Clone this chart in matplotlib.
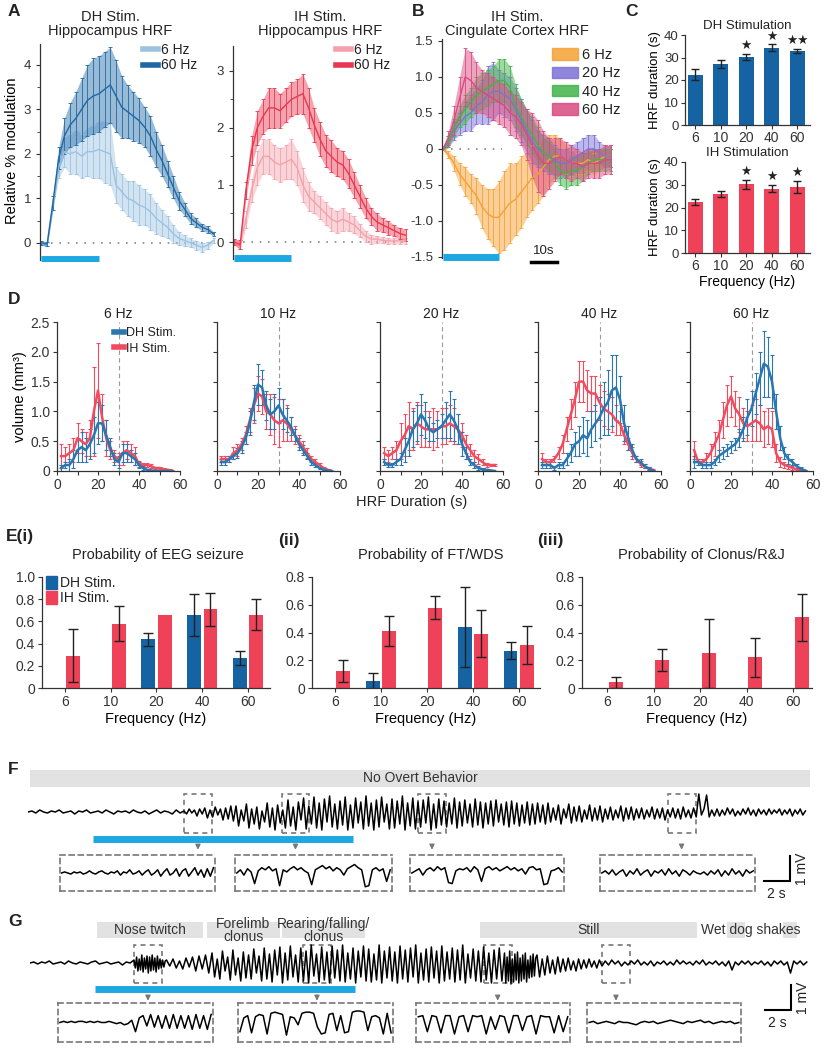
import matplotlib
matplotlib.use("Agg")
import matplotlib.pyplot as plt
import numpy as np
from matplotlib.lines import Line2D
from matplotlib.patches import Patch, Rectangle

plt.rcParams["font.family"] = ["Liberation Sans", "DejaVu Sans"]
plt.rcParams["axes.linewidth"] = 0.9
plt.rcParams["axes.edgecolor"] = "#333333"
plt.rcParams["xtick.color"] = "#333333"
plt.rcParams["ytick.color"] = "#333333"
plt.rcParams["text.color"] = "#222222"

W, H = 825, 1050

# ---------------- data ----------------
# A / B : HRF time courses, sampled every 2 s
hrf_t = np.arange(0, 61, 2)
hrf_stim = [0, 20]

dh6_mean = [0.0, -0.03, 0.9, 1.7, 2.05, 2.0, 2.05, 1.95, 2.05, 2.05, 2.1, 2.05, 2.0,
            1.3, 1.15, 1.0, 0.95, 0.85, 0.8, 0.7, 0.55, 0.45, 0.35, 0.2, 0.1, 0.05,
            0.0, -0.05, -0.1, -0.05, 0.05]
dh6_err = [0.05, 0.05, 0.15, 0.25, 0.35, 0.45, 0.5, 0.5, 0.55, 0.6, 0.65, 0.7, 0.7,
           0.4, 0.4, 0.4, 0.45, 0.45, 0.4, 0.4, 0.35, 0.3, 0.25, 0.2, 0.15, 0.12,
           0.1, 0.1, 0.1, 0.08, 0.05]
dh60_mean = [0.0, -0.03, 0.9, 1.9, 2.4, 2.65, 2.8, 3.0, 3.2, 3.3, 3.35, 3.45, 3.55,
             3.3, 3.05, 2.95, 2.85, 2.75, 2.6, 2.4, 2.1, 1.85, 1.55, 1.25, 0.95, 0.75,
             0.55, 0.45, 0.35, 0.3, 0.2]
dh60_err = [0.05, 0.05, 0.15, 0.25, 0.4, 0.5, 0.6, 0.7, 0.8, 0.85, 0.85, 0.85, 0.85,
            0.8, 0.7, 0.6, 0.55, 0.5, 0.45, 0.45, 0.4, 0.35, 0.3, 0.25, 0.2, 0.15,
            0.12, 0.1, 0.08, 0.07, 0.05]
ih6_mean = [0.0, -0.05, 0.4, 0.9, 1.3, 1.5, 1.5, 1.4, 1.35, 1.4, 1.45, 1.3, 1.0, 0.8,
            0.7, 0.6, 0.5, 0.4, 0.35, 0.4, 0.35, 0.3, 0.2, 0.1, 0.05, 0.05, 0.03,
            0.02, 0.02, 0.02, 0.02]
ih6_err = [0.05, 0.08, 0.15, 0.2, 0.3, 0.3, 0.3, 0.3, 0.3, 0.3, 0.35, 0.3, 0.3, 0.25,
           0.2, 0.2, 0.2, 0.2, 0.2, 0.2, 0.15, 0.15, 0.12, 0.1, 0.08, 0.06, 0.05,
           0.05, 0.05, 0.05, 0.05]
ih60_mean = [0.0, -0.05, 0.9, 1.6, 2.0, 2.2, 2.35, 2.35, 2.3, 2.4, 2.5, 2.55, 2.6,
             2.35, 2.05, 1.8, 1.6, 1.5, 1.4, 1.35, 1.2, 1.0, 0.8, 0.6, 0.45, 0.35,
             0.3, 0.25, 0.2, 0.15, 0.12]
ih60_err = [0.05, 0.08, 0.15, 0.25, 0.3, 0.3, 0.35, 0.35, 0.3, 0.3, 0.3, 0.3, 0.35,
            0.35, 0.3, 0.3, 0.28, 0.28, 0.25, 0.25, 0.25, 0.22, 0.2, 0.18, 0.15, 0.15,
            0.12, 0.12, 0.1, 0.1, 0.1]

cc_labels = ["6 Hz", "20 Hz", "40 Hz", "60 Hz"]
cc6_mean = [0.0, -0.08, -0.2, -0.35, -0.45, -0.55, -0.65, -0.8, -0.9, -0.95, -0.95,
            -0.85, -0.75, -0.7, -0.6, -0.5, -0.4, -0.35, -0.25, -0.15, -0.1, -0.1,
            -0.15, -0.2, -0.2, -0.2, -0.15, -0.2, -0.15, -0.1, -0.1]
cc6_err = [0.02, 0.05, 0.1, 0.15, 0.2, 0.2, 0.25, 0.3, 0.35, 0.4, 0.5, 0.55, 0.55,
           0.5, 0.5, 0.45, 0.45, 0.4, 0.4, 0.35, 0.3, 0.25, 0.2, 0.18, 0.15, 0.15,
           0.15, 0.15, 0.15, 0.15, 0.15]
cc20_mean = [0.0, 0.1, 0.25, 0.35, 0.45, 0.5, 0.6, 0.65, 0.75, 0.8, 0.8, 0.75, 0.7,
             0.55, 0.4, 0.25, 0.1, 0.0, -0.05, -0.1, -0.15, -0.2, -0.2, -0.15, -0.1,
             -0.05, 0.0, 0.0, -0.05, -0.1, -0.1]
cc20_err = [0.02, 0.08, 0.12, 0.15, 0.2, 0.25, 0.25, 0.3, 0.4, 0.4, 0.3, 0.3, 0.3,
            0.3, 0.3, 0.3, 0.3, 0.25, 0.25, 0.25, 0.2, 0.2, 0.2, 0.2, 0.2, 0.2, 0.2,
            0.2, 0.15, 0.15, 0.15]
cc40_mean = [0.0, 0.1, 0.3, 0.45, 0.55, 0.65, 0.75, 0.8, 0.85, 0.9, 0.95, 0.95, 0.85,
             0.6, 0.45, 0.3, 0.2, 0.05, -0.05, -0.1, -0.2, -0.3, -0.35, -0.3, -0.3,
             -0.25, -0.2, -0.15, -0.15, -0.15, -0.15]
cc40_err = [0.02, 0.08, 0.12, 0.15, 0.2, 0.2, 0.25, 0.25, 0.25, 0.25, 0.3, 0.3, 0.3,
            0.3, 0.25, 0.25, 0.25, 0.25, 0.2, 0.2, 0.2, 0.2, 0.2, 0.2, 0.2, 0.2, 0.15,
            0.15, 0.15, 0.15, 0.15]
cc60_mean = [0.0, 0.15, 0.4, 0.7, 1.0, 0.95, 0.85, 0.8, 0.75, 0.7, 0.65, 0.6, 0.5,
             0.45, 0.35, 0.2, 0.05, -0.1, -0.2, -0.2, -0.15, -0.1, -0.15, -0.2, -0.2,
             -0.25, -0.2, -0.2, -0.2, -0.15, -0.15]
cc60_err = [0.02, 0.1, 0.2, 0.3, 0.4, 0.4, 0.35, 0.3, 0.3, 0.3, 0.3, 0.3, 0.3, 0.3,
            0.3, 0.35, 0.45, 0.5, 0.45, 0.35, 0.3, 0.25, 0.25, 0.25, 0.2, 0.2, 0.2,
            0.2, 0.2, 0.2, 0.2]

# C : HRF duration (s)
freq_labels = ["6", "10", "20", "40", "60"]
dur_dh = [22.3, 27.0, 30.2, 34.3, 33.0]
dur_dh_err = [2.5, 1.8, 1.5, 1.5, 1.0]
dur_dh_stars = ["", "", "\u2605", "\u2605", "\u2605\u2605"]
dur_ih = [22.3, 25.8, 30.3, 28.3, 29.0]
dur_ih_err = [1.3, 1.3, 2.0, 1.7, 2.7]
dur_ih_stars = ["", "", "\u2605", "\u2605", "\u2605"]

# D : volume vs HRF duration, 2 s bins
dur_bins = np.arange(2, 57, 2)
d_titles = ["6 Hz", "10 Hz", "20 Hz", "40 Hz", "60 Hz"]
vol_dh_6 = [0.05, 0.1, 0.1, 0.2, 0.35, 0.4, 0.35, 0.45, 0.6, 0.8, 0.8, 0.6, 0.4, 0.2,
            0.15, 0.3, 0.3, 0.25, 0.2, 0.1, 0.05, 0.02, 0.01, 0, 0, 0, 0, 0]
vol_dh_6_err = [0.05, 0.05, 0.1, 0.15, 0.2, 0.25, 0.2, 0.25, 0.3, 0.35, 0.3, 0.25, 0.15,
                0.1, 0.1, 0.15, 0.15, 0.1, 0.1, 0.05, 0.03, 0.02, 0.01, 0, 0, 0, 0, 0]
vol_ih_6 = [0.25, 0.25, 0.3, 0.35, 0.55, 0.5, 0.45, 0.55, 1.0, 1.35, 0.9, 0.55, 0.35,
            0.25, 0.2, 0.3, 0.35, 0.3, 0.25, 0.12, 0.1, 0.1, 0.08, 0.05, 0.05, 0.03,
            0.02, 0.01]
vol_ih_6_err = [0.2, 0.15, 0.15, 0.2, 0.25, 0.2, 0.2, 0.3, 0.75, 0.8, 0.4, 0.3, 0.15,
                0.1, 0.1, 0.2, 0.15, 0.15, 0.15, 0.05, 0.04, 0.03, 0.03, 0.02, 0.02,
                0.02, 0.01, 0.01]
vol_dh_10 = [0.15, 0.15, 0.2, 0.25, 0.3, 0.4, 0.55, 0.8, 1.15, 1.45, 1.4, 1.1, 0.95,
             1.0, 1.1, 0.95, 0.85, 0.75, 0.6, 0.45, 0.35, 0.25, 0.15, 0.1, 0.05, 0.02,
             0.01, 0]
vol_dh_10_err = [0.05, 0.05, 0.05, 0.05, 0.08, 0.1, 0.1, 0.2, 0.3, 0.35, 0.3, 0.25,
                 0.25, 0.3, 0.3, 0.25, 0.2, 0.15, 0.1, 0.1, 0.08, 0.05, 0.05, 0.03,
                 0.02, 0.01, 0.01, 0]
vol_ih_10 = [0.2, 0.2, 0.2, 0.3, 0.35, 0.45, 0.6, 0.85, 1.1, 1.3, 1.25, 1.0, 0.95,
             0.85, 0.8, 0.85, 0.8, 0.7, 0.6, 0.5, 0.4, 0.3, 0.2, 0.15, 0.1, 0.05,
             0.02, 0]
vol_ih_10_err = [0.05, 0.05, 0.05, 0.1, 0.1, 0.1, 0.15, 0.2, 0.3, 0.3, 0.3, 0.3, 0.35,
                 0.4, 0.4, 0.35, 0.3, 0.2, 0.15, 0.1, 0.1, 0.08, 0.05, 0.05, 0.03,
                 0.02, 0.01, 0]
vol_dh_20 = [0.15, 0.1, 0.1, 0.15, 0.2, 0.35, 0.5, 0.7, 0.8, 0.95, 0.85, 0.7, 0.65,
             0.7, 0.75, 0.85, 0.95, 0.85, 0.7, 0.45, 0.3, 0.15, 0.1, 0.05, 0.03, 0.02,
             0.01, 0]
vol_dh_20_err = [0.05, 0.03, 0.03, 0.05, 0.1, 0.2, 0.25, 0.3, 0.3, 0.35, 0.3, 0.2,
                 0.15, 0.15, 0.2, 0.3, 0.4, 0.35, 0.25, 0.2, 0.1, 0.05, 0.05, 0.03,
                 0.02, 0.01, 0.01, 0]
vol_ih_20 = [0.3, 0.25, 0.3, 0.35, 0.5, 0.6, 0.75, 0.7, 0.8, 0.75, 0.7, 0.7, 0.7, 0.7,
             0.75, 0.75, 0.8, 0.75, 0.7, 0.6, 0.45, 0.35, 0.25, 0.2, 0.15, 0.1, 0.1,
             0.1]
vol_ih_20_err = [0.1, 0.1, 0.1, 0.15, 0.3, 0.35, 0.4, 0.35, 0.35, 0.35, 0.3, 0.3, 0.35,
                 0.3, 0.3, 0.3, 0.3, 0.3, 0.25, 0.2, 0.15, 0.1, 0.1, 0.08, 0.05, 0.03,
                 0.02, 0.01]
vol_dh_40 = [0.1, 0.1, 0.1, 0.05, 0.1, 0.1, 0.2, 0.3, 0.45, 0.5, 0.6, 0.55, 0.7, 0.8,
             0.9, 1.05, 1.15, 1.35, 1.4, 1.2, 0.8, 0.55, 0.35, 0.2, 0.15, 0.08, 0.04,
             0.01]
vol_dh_40_err = [0.05, 0.05, 0.05, 0.03, 0.05, 0.05, 0.1, 0.15, 0.2, 0.25, 0.3, 0.3,
                 0.3, 0.3, 0.35, 0.45, 0.55, 0.6, 0.55, 0.4, 0.3, 0.2, 0.1, 0.05, 0.05,
                 0.03, 0.02, 0.01]
vol_ih_40 = [0.2, 0.15, 0.15, 0.2, 0.3, 0.45, 0.7, 0.95, 1.2, 1.5, 1.5, 1.35, 1.3, 1.3,
             1.15, 1.05, 1.0, 0.95, 0.85, 0.8, 0.6, 0.45, 0.3, 0.2, 0.12, 0.08, 0.04,
             0.02]
vol_ih_40_err = [0.1, 0.05, 0.05, 0.05, 0.1, 0.15, 0.2, 0.25, 0.3, 0.35, 0.35, 0.35,
                 0.3, 0.3, 0.3, 0.3, 0.3, 0.3, 0.25, 0.2, 0.15, 0.1, 0.1, 0.05, 0.05,
                 0.03, 0.02, 0.01]
vol_dh_60 = [0.15, 0.15, 0.1, 0.1, 0.1, 0.15, 0.25, 0.3, 0.35, 0.4, 0.45, 0.55, 0.7,
             0.9, 1.05, 1.3, 1.55, 1.8, 1.75, 1.5, 1.0, 0.55, 0.3, 0.2, 0.15, 0.08,
             0.04, 0.01]
vol_dh_60_err = [0.1, 0.05, 0.05, 0.05, 0.05, 0.05, 0.1, 0.1, 0.1, 0.1, 0.1, 0.15, 0.2,
                 0.3, 0.3, 0.35, 0.45, 0.55, 0.5, 0.45, 0.3, 0.2, 0.1, 0.08, 0.05,
                 0.03, 0.02, 0.01]
vol_ih_60 = [0.35, 0.15, 0.15, 0.2, 0.3, 0.45, 0.6, 0.85, 1.1, 1.25, 1.05, 0.95, 0.8,
             0.75, 0.8, 0.85, 0.8, 0.7, 0.75, 0.7, 0.3, 0.15, 0.1, 0.08, 0.05, 0.03,
             0.02, 0.01]
vol_ih_60_err = [0.15, 0.05, 0.05, 0.1, 0.15, 0.2, 0.25, 0.3, 0.35, 0.35, 0.3, 0.3,
                 0.25, 0.25, 0.3, 0.35, 0.3, 0.3, 0.3, 0.3, 0.15, 0.08, 0.05, 0.04,
                 0.03, 0.02, 0.01, 0.01]

# E : probabilities
seiz_dh = [0, 0, 0.44, 0.66, 0.27]
seiz_dh_err = [0, 0, 0.06, 0.19, 0.06]
seiz_ih = [0.29, 0.58, 0.66, 0.71, 0.66]
seiz_ih_err = [0.24, 0.16, 0, 0.15, 0.14]
ftw_dh = [0, 0.05, 0, 0.44, 0.27]
ftw_dh_err = [0, 0.06, 0, 0.29, 0.06]
ftw_ih = [0.12, 0.41, 0.58, 0.39, 0.31]
ftw_ih_err = [0.08, 0.11, 0.08, 0.17, 0.14]
clon_dh = [0, 0, 0, 0, 0]
clon_dh_err = [0, 0, 0, 0, 0]
clon_ih = [0.04, 0.20, 0.25, 0.22, 0.51]
clon_ih_err = [0.04, 0.08, 0.25, 0.14, 0.17]

# F / G : EEG traces (units of 0.04 mV), 60 s recordings split in segments
eeg_unit = 0.04
eeg_stim = [5, 25]
zoom_len = 2.15

f_bounds = [0, 12, 16, 40, 53, 60]
f_base = [0, 1, -1, 2, 0, -1, 1, 0, 2, -1, 0, 1, -2, 1, 0, 2, -1, 0, 1, -1,
          2, 0, -2, 1, 0, 1, -1, 2, 0, -1, 1, -2, 0, 2, -1, 1, 0, -2, 2, -1]
f_build = [1, -2, 3, -1, 2, -4, 3, -2, 4, -6, 2, -5, 5, -3, 3, -8, 4, -7, 6, -9]
f_spikes = [6, -14, 2, -9, 8, -16, 3, -12, 5, -17, 1, -10, 9, -15, 4, -18, 7, -11, 2, -16,
            12, -14, 5, -18, 10, -8, 14, -17, 6, -12, 15, -16, 9, -18, 13, -10, 16, -15, 8, -17,
            11, -13, 15, -18, 7, -16, 14, -11, 10, -17, 16, -14, 9, -18, 12, -15, 15, -10, 8, -17,
            13, -16, 11, -12, 16, -18, 9, -14, 14, -17, 10, -15, 12, -11, 15, -18, 8, -16, 13, -13,
            11, -15, 9, -12, 14, -16, 10, -14, 12, -11, 8, -15, 13, -13, 10, -16, 9, -12, 11, -14,
            12, -10, 8, -13, 10, -15, 11, -12, 9, -14, 7, -11, 10, -13, 8, -12, 9, -10, 7, -12]
f_dense = [9, -10, 4, -8, 7, -12, 3, -6, 8, -11, 5, -9, 6, -10, 2, -7, 7, -9, 4, -8,
           6, -10, 3, -7, 5, -8, 2, -6, 6, -9, 4, -7, 5, -8, 3, -6, 4, -7, 2, -5,
           5, -7, 3, -6, 4, -8, 2, -5, 4, -6, 3, -7, 5, -5, 2, -6, 4, -5, 18, -3,
           3, 17, -5, 2, -4]
f_tail = [3, -4, 2, -3, 4, -2, 3, -4, 1, -3, 3, -2, 4, -3, 2, -4, 3, -2, 2, -3,
          3, -2, 2, -1, 3, -3, 2, -2, 3, -4, 2, -2, 3, -3, 1]
f_label = "No Overt Behavior"
f_label_span = [0.15, 60.15]
f_zoom_start = [12.0, 19.5, 30.0, 49.2]
f_inset1 = [0, 1, 0, -1, 1, 0, 1, -1, 0, 2, 0, -1, 1, 2, 0, -1, 1, 0, 2, -2, 1, 0, 3, -1,
            0, 2, -2, 1, 3, -2, 0, 3, -3, 1, 4, -2, 0, 4, -3, 2, 4, -3, 1, 5, -2, 3, -4,
            4, -3, 5]
f_inset2 = [0, 3, -2, 4, 1, -10, 2, 5, 3, 6, 2, 4, -12, 3, 1, 4, 6, 3, 5, 2, 0, -11, 3,
            5, 7, 4, 6, 2, 5, 3, -2, 4, 6, 8, 5, 3, -13, -12, 3, 5, 2, 4, -8, 3]
f_inset3 = [0, 2, 4, -2, 3, 5, 2, 6, 3, 5, -9, -10, 2, 4, 3, 5, 1, 6, 3, -8, 4, 6, 3, 5,
            2, 4, 6, 3, 5, 2, 4, -1, 5, 6, 3, 4, -11, -10, 2, 3, 5, 1]
f_inset4 = [0, 2, -1, 3, -2, 1, 3, -3, 2, -1, 4, -2, 1, 3, -3, 2, 0, 3, -2, 4, -1, 2, -3,
            3, 1, -2, 2, 0, -1, 1, -2, 2, -1, 3, -3, 2, -2, 4, -1, 2, -3, 3, 0, 2]

g_bounds = [0, 8, 10.5, 14, 36.5, 39, 44, 60]
g_base = [0, 1, -1, 1, 0, 2, -1, 0, 1, -1, 2, 0, -1, 1, 0, -1, 1, 2, -1, 0, 1, -1, 0, 1,
          -2, 1, 0]
g_burst = [3, -5, 6, -8, 4, -7, 8, -9, 5, -6, 7, -10, 6, -8, 8, -7, 5, -9, 7, -6, 4, -5,
           3, -4, 2]
g_build = [3, -3, 4, -5, 2, -6, 5, -4, 6, -8, 7, -6, 8, -10]
g_spikes = [10, -14, 4, -16, 12, -8, 6, -17, 13, -12, 5, -18, 11, -15, 8, -16, 14, -10, 7, -18,
            15, -16, 9, -19, 13, -12, 16, -20, 10, -17, 17, -14, 8, -19, 15, -18, 12, -20, 18, -13,
            9, -19, 16, -17, 11, -20, 17, -15, 13, -18, 18, -19, 10, -16, 15, -20, 12, -14, 17, -18,
            14, -19, 9, -17, 18, -20, 12, -15, 16, -18, 11, -20, 17, -16, 13, -19, 15, -14, 18, -20,
            10, -17, 14, -19, 16, -15, 12, -20, 17, -18, 11, -16, 15, -19, 13, -17, 18, -20, 9, -15,
            14, -18, 12, -19, 16, -17, 10, -20, 13, -16, 15, -18]
g_dense = [10, -20, 6, -18, 12, -21, 4, -19, 9, -17, 11, -20, 5, -18, 8, -16, 10, -19, 3,
           -15, 7, -14, 9, -13, 5]
g_decay = [8, -14, 4, -12, 7, -10, 3, -11, 6, -9, 4, -8, 5, -7, 2, -8, 4, -6, 3, -5, 4, -4,
           2, -5, 3]
g_tail = [-3, 2, -2, 3, -1, 2, -3, 1, -2, 2, -1, 3, -2, 1, -2, 2, -3, 1, -1, 2,
          -2, 1, -2, 3, -1, 2, -1, 1, -2, 2, -1, 3, -2, 1, -1, 2, -2, 1, -3, 2,
          -7, 1, -2, 2, -1, 2, -2, 1, -1, 2, -2, 1, -3, 2, -1, 2, -2, 1, -10, 2,
          -1, 2, -2, 1]
g_labels = ["Nose twitch", "Forelimb\nclonus", "Rearing/falling/\nclonus", "Still"]
g_label_start = [5.15, 13.6, 19.4, 34.6]
g_label_end = [13.3, 19.2, 25.8, 51.3]
g_wds_start = [53.6, 57.9]
g_wds_end = [55.0, 59.0]
g_zoom_start = [8.0, 21.0, 34.9, 44.0]
g_inset1 = [0, 1, 0, 1, 0, 1, 1, 0, 1, 0, 1, 0, 0, 1, 0, -1, 0, -2, -1, 2, -8, 4, 6, -3,
            7, -4, 6, -5, 6, -5, 7, -5, 6, -5, 6, -6, 7, -5, 6, -6, 7]
g_inset2 = [-8, 4, 6, -9, 5, 7, 6, -10, 8, 9, 8, 7, -11, 5, 4, -2, 8, 9, 9, 8, -4, -10,
            -9, 7, 8, -7, 6, -9, -8, 9, 10, 10, 9, -7, 5, 6, 4, -10, 8, -9]
g_inset3 = [5, 6, -8, 6, 5, -9, 6, 6, -10, 5, 6, -8, 6, 5, 6, -10, 5, -6, 6, 5, -9, 6, 6,
            -7, 5, 6, -10, 6, 5, 5, -9, 6, -8, 5]
g_inset4 = [0, 1, -1, 0, 1, 0, -1, 1, 0, 0, -1, -2, 0, 1, 0, 1, -1, 0, 1, 2, 1, 0, -1, 1,
            0, 1, 2, 0, 1, -1, 0, 1, 0, 1, -1, 0]

# ---------------- colours ----------------
CYAN = "#1ea8e2"
DH_DARK = "#1f68a4"
DH_LIGHT = "#9dc2e0"
IH_DARK = "#e8374e"
IH_LIGHT = "#f3a2ad"
CC_COLORS = ["#f6a135", "#7c72d6", "#42b34b", "#da4a80"]
BAR_BLUE = "#1663a3"
BAR_RED = "#ef4259"
D_BLUE = "#2976b0"
D_RED = "#f14b60"
GREY_BOX = "#e2e2e2"
DASH = "#777777"

fig = plt.figure(figsize=(W / 100, H / 100), dpi=100)


def px_axes(x0, y0, x1, y1):
    return fig.add_axes([x0 / W, 1 - y1 / H, (x1 - x0) / W, (y1 - y0) / H])


def px_text(x, y, s, **kw):
    fig.text(x / W, 1 - y / H, s, **kw)


def left_only(ax):
    for side in ("top", "right", "bottom"):
        ax.spines[side].set_visible(False)
    ax.set_xticks([])


def draw_hrf(ax, mean, err, color, alpha=0.45):
    m = np.asarray(mean)
    e = np.asarray(err)
    ax.fill_between(hrf_t, m - e, m + e, color=color, alpha=alpha, lw=0)
    ax.errorbar(hrf_t, m, yerr=e, color=color, lw=1, elinewidth=0.6,
                capsize=1.3, capthick=0.6)


# ---------------- A ----------------
for x0, x1, ylim, top, bar_y, curves, title, leg_x in [
        (40, 215, (-0.43, 4.56), 4, -0.36,
         [(dh6_mean, dh6_err, DH_LIGHT), (dh60_mean, dh60_err, DH_DARK)],
         "DH Stim.\nHippocampus HRF", 143),
        (233, 407, (-0.35, 3.54), 3, -0.28,
         [(ih6_mean, ih6_err, IH_LIGHT), (ih60_mean, ih60_err, IH_DARK)],
         "IH Stim.\nHippocampus HRF", 336)]:
    ax = px_axes(x0, 40, x1, 262)
    ax.set_xlim(-0.5, 60.5)
    ax.set_ylim(*ylim)
    left_only(ax)
    ax.spines["left"].set_bounds(ylim[0] + 0.05, ylim[1] - 0.1)
    ax.axhline(0, xmin=0.06, color="#888888", ls=(0, (1, 4)), lw=1.2, zorder=0)
    for mean, err, col in curves:
        draw_hrf(ax, mean, err, col)
    ax.plot(hrf_stim, [bar_y, bar_y], color=CYAN, lw=5, solid_capstyle="butt")
    ax.set_yticks(range(top + 1))
    ax.set_yticks(np.arange(0.5, top + 0.1, 1), minor=True)
    ax.tick_params(labelsize=9.5, length=3)
    ax.tick_params(which="minor", length=2)
    ax.legend([Line2D([], [], color=c[2], lw=4) for c in curves], ["6 Hz", "60 Hz"],
              loc="upper left", bbox_to_anchor=(leg_x / W, 1 - 43 / H),
              bbox_transform=fig.transFigure, frameon=False, fontsize=10,
              handlelength=1.1, handletextpad=0.2, labelspacing=0.1,
              borderpad=0, borderaxespad=0)
    px_text((x0 + x1) / 2 - (17 if x0 == 40 else 0), 24, title, ha="center",
            va="center", fontsize=10.5, linespacing=1.05)
    if x0 == 40:
        ax.set_ylabel("Relative % modulation", fontsize=10.5, labelpad=3)

# ---------------- B ----------------
ax = px_axes(442, 38, 612, 262)
ax.set_xlim(-0.3, 60.5)
ax.set_ylim(-1.57, 1.54)
left_only(ax)
ax.spines["left"].set_bounds(-1.52, 1.52)
ax.axhline(0, xmin=0.05, xmax=0.35, color="#888888", ls=(0, (1, 4)), lw=1.2, zorder=0)
for mean, err, col in zip([cc6_mean, cc20_mean, cc40_mean, cc60_mean],
                          [cc6_err, cc20_err, cc40_err, cc60_err], CC_COLORS):
    draw_hrf(ax, mean, err, col, alpha=0.5)
ax.plot(hrf_stim, [-1.5, -1.5], color=CYAN, lw=5, solid_capstyle="butt")
ax.set_yticks([-1.5, -1.0, -0.5, 0, 0.5, 1.0, 1.5])
ax.set_yticklabels(["-1.5", "-1.0", "-0.5", "0", "0.5", "1.0", "1.5"])
ax.tick_params(labelsize=9.5, length=3)
ax.plot([31.5, 41], [-1.57, -1.57], color="k", lw=2.5, clip_on=False)
ax.text(36.2, -1.5, "10s", ha="center", va="bottom", fontsize=9.5)
ax.legend([Patch(color=c, alpha=0.85) for c in CC_COLORS], cc_labels,
          loc="upper left", bbox_to_anchor=(552 / W, 1 - 48 / H),
          bbox_transform=fig.transFigure, frameon=False, fontsize=10.5,
          handlelength=1.8, handleheight=0.8, handletextpad=0.25, labelspacing=0.3,
          borderpad=0, borderaxespad=0)
px_text(517, 24, "IH Stim.\nCingulate Cortex HRF", ha="center", va="center",
        fontsize=10.5, linespacing=1.05)

# ---------------- C ----------------
for y0, y1, vals, errs, stars, col, title in [
        (35, 125, dur_dh, dur_dh_err, dur_dh_stars, BAR_BLUE, "DH Stimulation"),
        (162, 253, dur_ih, dur_ih_err, dur_ih_stars, BAR_RED, "IH Stimulation")]:
    ax = px_axes(685, y0, 810, y1)
    pos = np.arange(len(vals))
    ax.bar(pos, vals, 0.58, color=col, yerr=errs,
           error_kw=dict(ecolor="#222222", elinewidth=1, capsize=3, capthick=1))
    for p, v, e, s in zip(pos, vals, errs, stars):
        if s:
            ax.text(p, v + e + 0.8, s, ha="center", va="bottom", fontsize=9,
                    color="#222222")
    ax.set_xlim(-0.4, 4.5)
    ax.set_ylim(0, 40)
    ax.set_yticks([0, 10, 20, 30, 40])
    ax.set_xticks(pos)
    ax.set_xticklabels(freq_labels)
    ax.spines["top"].set_visible(False)
    ax.spines["right"].set_visible(False)
    ax.tick_params(labelsize=9.5, length=3, pad=1.5)
    ax.tick_params(axis="x", labelsize=10)
    ax.set_ylabel("HRF duration (s)", fontsize=9.5, labelpad=2)
    ax.set_title(title, fontsize=9.5, pad=4)
ax.set_xlabel("Frequency (Hz)", fontsize=10, labelpad=1)

# ---------------- D ----------------
d_dh = [(vol_dh_6, vol_dh_6_err), (vol_dh_10, vol_dh_10_err), (vol_dh_20, vol_dh_20_err),
        (vol_dh_40, vol_dh_40_err), (vol_dh_60, vol_dh_60_err)]
d_ih = [(vol_ih_6, vol_ih_6_err), (vol_ih_10, vol_ih_10_err), (vol_ih_20, vol_ih_20_err),
        (vol_ih_40, vol_ih_40_err), (vol_ih_60, vol_ih_60_err)]
for i, x0 in enumerate([57, 217, 380, 538, 690]):
    ax = px_axes(x0, 322, x0 + 123, 471)
    ax.axvline(30, color="#999999", ls=(0, (4, 3)), lw=0.8, zorder=0)
    for (v, e), col in [(d_ih[i], D_RED), (d_dh[i], D_BLUE)]:
        ax.errorbar(dur_bins, v, yerr=e, color=col, lw=1.8, elinewidth=0.8,
                    capsize=1.3, capthick=0.8)
    ax.set_xlim(0, 60)
    ax.set_ylim(0, 2.5)
    ax.spines["top"].set_visible(False)
    ax.spines["right"].set_visible(False)
    ax.set_xticks(range(0, 61, 10))
    ax.set_xticklabels(["0", "", "20", "", "40", "", "60"])
    ax.set_yticks([0, 0.5, 1.0, 1.5, 2.0, 2.5])
    if i == 0:
        ax.set_yticklabels(["0", "0.5", "1.0", "1.5", "2.0", "2.5"])
        ax.set_ylabel("volume (mm\u00b3)", fontsize=10.5, labelpad=3)
        ax.legend([Line2D([], [], color=D_BLUE, lw=4), Line2D([], [], color=D_RED, lw=4)],
                  ["DH Stim.", "IH Stim."], loc="upper left",
                  bbox_to_anchor=(114 / W, 1 - 327 / H), bbox_transform=fig.transFigure,
                  frameon=False, fontsize=9, handlelength=0.8, handletextpad=0.2,
                  labelspacing=0.3, borderpad=0, borderaxespad=0)
    else:
        ax.set_yticklabels([])
    ax.tick_params(labelsize=10, length=3, pad=2)
    ax.set_title(d_titles[i], fontsize=10, pad=3)
px_text(412, 502, "HRF Duration (s)", ha="center", va="center", fontsize=10.5)


# ---------------- E ----------------
def draw_prob(ax, dh, dh_err, ih, ih_err, ymax, xlim):
    pos = np.arange(len(freq_labels))
    ax.bar(pos - 0.18, dh, 0.3, color=BAR_BLUE)
    ax.bar(pos + 0.18, ih, 0.3, color=BAR_RED)
    for offs, vals, errs in [(-0.18, dh, dh_err), (0.18, ih, ih_err)]:
        for p, v, e in zip(pos + offs, vals, errs):
            if e > 0:
                ax.errorbar(p, v, yerr=e, fmt="none", ecolor="#222222",
                            elinewidth=1, capsize=3.5, capthick=1)
    ax.set_xlim(*xlim)
    ax.set_ylim(0, ymax)
    ticks = np.round(np.arange(0, ymax + 0.01, 0.2), 1)
    ax.set_yticks(ticks)
    ax.set_yticklabels(["0"] + ["%.1f" % t for t in ticks[1:]])
    ax.set_xticks(pos)
    ax.set_xticklabels(freq_labels)
    ax.spines["top"].set_visible(False)
    ax.spines["right"].set_visible(False)
    ax.tick_params(labelsize=10, length=3, pad=2)
    ax.set_xlabel("Frequency (Hz)", fontsize=10.5, labelpad=2)


ax = px_axes(42, 577, 270, 688)
draw_prob(ax, seiz_dh, seiz_dh_err, seiz_ih, seiz_ih_err, 1.0, (-0.5, 4.48))
ax.legend([Patch(color=BAR_BLUE), Patch(color=BAR_RED)], ["DH Stim.", "IH Stim."],
          loc="upper left", bbox_to_anchor=(46 / W, 1 - 576 / H),
          bbox_transform=fig.transFigure, frameon=False, fontsize=10,
          handlelength=0.8, handleheight=1.1, handletextpad=0.2, labelspacing=0.05,
          borderpad=0, borderaxespad=0)
px_text(158, 555, "Probability of EEG seizure", ha="center", va="center", fontsize=10.5)

ax = px_axes(312, 577, 540, 688)
draw_prob(ax, ftw_dh, ftw_dh_err, ftw_ih, ftw_ih_err, 0.8, (-0.5, 4.46))
px_text(431, 555, "Probability of FT/WDS", ha="center", va="center", fontsize=10.5)

ax = px_axes(582, 577, 812, 688)
draw_prob(ax, clon_dh, clon_dh_err, clon_ih, clon_ih_err, 0.8, (-0.54, 4.4))
px_text(701, 555, "Probability of Clonus/R&J", ha="center", va="center", fontsize=10.5)


# ---------------- F / G ----------------
def dashed_box(ax):
    ax.set_xticks([])
    ax.set_yticks([])
    for s in ax.spines.values():
        s.set_linestyle((0, (3, 2.5)))
        s.set_color(DASH)
        s.set_linewidth(1.2)


def seg_trace(bounds, segs):
    t = np.concatenate([np.linspace(a, b, len(s), endpoint=False)
                        for a, b, s in zip(bounds[:-1], bounds[1:], segs)])
    v = np.concatenate([np.asarray(s, float) for s in segs]) * eeg_unit
    return t, v


def draw_eeg(ax, t, v, zooms, box_y, arrow_y, bar_y, scale_x, scale_y):
    ax.plot(t, v, color="k", lw=1.1)
    ax.plot(eeg_stim, [bar_y, bar_y], color=CYAN, lw=5, solid_capstyle="butt")
    for t0 in zooms:
        ax.add_patch(Rectangle((t0, box_y[0]), zoom_len, box_y[1] - box_y[0], fill=False,
                               ec=DASH, lw=1.2, ls=(0, (3, 2.5))))
        tc = t0 + zoom_len / 2
        ax.annotate("", xy=(tc, arrow_y[1]), xytext=(tc, arrow_y[0]),
                    arrowprops=dict(arrowstyle="-|>,head_width=0.15,head_length=0.3",
                                    color="#777777", lw=0.9))
    ax.plot([scale_x - 2, scale_x, scale_x], [scale_y, scale_y, scale_y + 1], color="k",
            lw=1.5, solid_joinstyle="miter")
    ax.text(scale_x + 0.95, scale_y + 0.5, "1 mV", rotation=90, ha="center",
            va="center", fontsize=10)
    ax.text(scale_x - 1, scale_y - 0.25, "2 s", ha="center", va="top", fontsize=10)
    ax.set_xlim(0, 60)
    ax.axis("off")


def draw_insets(traces, xs, y0, y1):
    for tr, (xa, xb) in zip(traces, xs):
        ia = px_axes(xa, y0, xb, y1)
        ia.plot(tr, color="k", lw=1.1)
        ia.set_xlim(-0.5, len(tr) - 0.5)
        ia.set_ylim(-17, 17)
        dashed_box(ia)


# F
ax = px_axes(28, 760, 808, 905)
ax.set_ylim(-3.72, 2.08)
ax.add_patch(Rectangle((f_label_span[0], 1.0), f_label_span[1] - f_label_span[0], 0.68,
                       color=GREY_BOX, lw=0, clip_on=False))
ax.text(sum(f_label_span) / 2, 1.34, f_label, ha="center", va="center", fontsize=10,
        color="#333333")
ft, fv = seg_trace(f_bounds, [f_base, f_build, f_spikes, f_dense, f_tail])
draw_eeg(ax, ft, fv, f_zoom_start, (-0.84, 0.72), (-1.26, -1.62), -1.08, 58.6, -2.76)
draw_insets([f_inset1, f_inset2, f_inset3, f_inset4],
            [(60, 215), (235, 392), (410, 564), (600, 755)], 855, 891)

# G
ax = px_axes(30, 905, 810, 1050)
ax.set_ylim(-3.48, 2.32)
for lab, a, b in zip(g_labels, g_label_start, g_label_end):
    ax.add_patch(Rectangle((a, 1.0), b - a, 0.64, color=GREY_BOX, lw=0, clip_on=False))
    ax.text((a + b) / 2, 1.3, lab, ha="center", va="center", fontsize=10,
            linespacing=0.85, color="#333333")
for a, b in zip(g_wds_start, g_wds_end):
    ax.add_patch(Rectangle((a, 1.0), b - a, 0.64, color=GREY_BOX, lw=0, clip_on=False))
ax.text(51.6, 1.32, "Wet dog shakes", ha="left", va="center", fontsize=10,
        color="#333333", clip_on=False)
gt, gv = seg_trace(g_bounds, [g_base, g_burst, g_build, g_spikes, g_dense, g_decay, g_tail])
draw_eeg(ax, gt, gv, g_zoom_start, (-0.8, 0.72), (-1.28, -1.62), -1.04, 58.5, -1.88)
draw_insets([g_inset1, g_inset2, g_inset3, g_inset4],
            [(58, 213), (238, 393), (416, 570), (587, 741)], 1003, 1042)

# ---------------- panel letters ----------------
for s, x, y in [("A", 8, 12), ("B", 412, 12), ("C", 625, 12), ("D", 8, 300),
                ("E(i)", 6, 537), ("(ii)", 278, 540), ("(iii)", 537, 540),
                ("F", 8, 770), ("G", 8, 922)]:
    px_text(x, y, s, ha="left", va="center", fontsize=12.5, fontweight="bold")

fig.savefig("out.png", dpi=100)
